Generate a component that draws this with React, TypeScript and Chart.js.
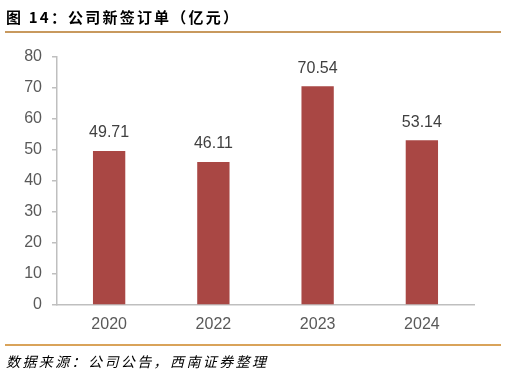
import React, { useEffect, useRef } from "react";
import { Chart, registerables } from "chart.js";

Chart.register(...registerables);

const categories = ["2020", "2022", "2023", "2024"];
const orders = [49.71, 46.11, 70.54, 53.14];
const yTicks = [0, 10, 20, 30, 40, 50, 60, 70, 80];

const valueLabels = {
  id: "valueLabels",
  afterDatasetsDraw(chart: any) {
    const ctx = chart.ctx;
    const meta = chart.getDatasetMeta(0);
    ctx.save();
    ctx.font = '16px "Liberation Sans", Arial, sans-serif';
    ctx.fillStyle = "#404040";
    ctx.textAlign = "center";
    ctx.textBaseline = "middle";
    meta.data.forEach((bar: any, i: number) => {
      ctx.fillText(orders[i].toFixed(2), bar.x, bar.y - 18);
    });
    ctx.restore();
  },
};

export default function App() {
  const ref = useRef<HTMLCanvasElement>(null);
  useEffect(() => {
    if (!ref.current) return;
    const chart = new Chart(ref.current, {
      type: "bar",
      data: {
        labels: categories,
        datasets: [
          {
            data: orders,
            backgroundColor: "#A94744",
            barPercentage: 0.31,
            categoryPercentage: 1,
          },
        ],
      },
      options: {
        animation: false,
        responsive: false,
        maintainAspectRatio: false,
        layout: { padding: { top: 57, right: 33, bottom: 31, left: 0 } },
        plugins: { legend: { display: false }, tooltip: { enabled: false } },
        scales: {
          x: {
            grid: { display: false, drawTicks: false },
            border: { color: "#BFBFBF", width: 1.5 },
            ticks: {
              color: "#595959",
              font: { family: '"Liberation Sans", Arial, sans-serif', size: 16 },
              padding: 10,
            },
            afterFit(scale: any) {
              scale.height = 40;
            },
          },
          y: {
            min: 0,
            max: 80,
            afterBuildTicks(scale: any) {
              scale.ticks = yTicks.map((v) => ({ value: v }));
            },
            grid: {
              display: true,
              drawOnChartArea: false,
              drawTicks: true,
              tickLength: 5,
              color: "#BFBFBF",
              lineWidth: 1.5,
            },
            border: { color: "#BFBFBF", width: 1.5 },
            ticks: {
              color: "#595959",
              font: { family: '"Liberation Sans", Arial, sans-serif', size: 16 },
              padding: 10,
            },
            afterFit(scale: any) {
              scale.width = 57;
            },
          },
        },
      },
      plugins: [valueLabels],
    });
    return () => chart.destroy();
  }, []);

  return (
    <div
      style={{
        position: "fixed",
        left: 0,
        top: 0,
        width: 507,
        height: 376,
        background: "#fff",
        overflow: "hidden",
      }}
    >
      <canvas ref={ref} width={507} height={376} style={{ position: "absolute", left: 0, top: 0 }} />
      <div
        style={{
          position: "absolute",
          left: 6,
          top: 6,
          fontFamily: '"Noto Sans CJK SC", sans-serif',
          fontWeight: "bold",
          fontSize: 15,
          lineHeight: "22px",
          color: "#000",
          letterSpacing: 2.2,
          whiteSpace: "nowrap",
        }}
      >
        图 14：公司新签订单（亿元）
      </div>
      <div style={{ position: "absolute", left: 5, top: 31, width: 496, height: 2, background: "#C8995E" }} />
      <div style={{ position: "absolute", left: 5, top: 344, width: 496, height: 2, background: "#D9A35A" }} />
      <div
        style={{
          position: "absolute",
          left: 6,
          top: 351,
          fontFamily: '"Noto Sans CJK SC", sans-serif',
          fontStyle: "italic",
          fontSize: 14,
          lineHeight: "20px",
          color: "#000",
          letterSpacing: 2.4,
          whiteSpace: "nowrap",
        }}
      >
        数据来源：公司公告，西南证券整理
      </div>
    </div>
  );
}
